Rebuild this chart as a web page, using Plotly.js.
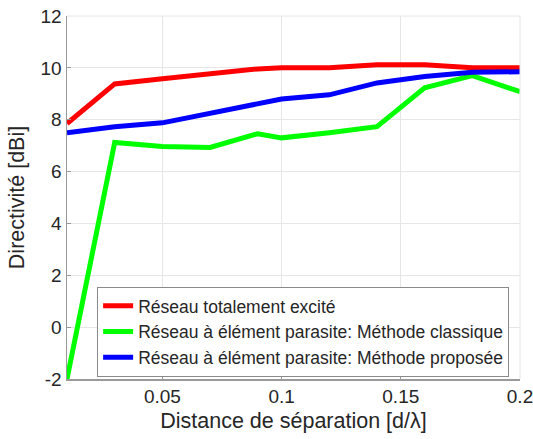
<!DOCTYPE html>
<html>
<head>
<meta charset="utf-8">
<script src="https://cdn.plot.ly/plotly-3.0.1.min.js"></script>
<style>html,body{margin:0;padding:0;background:#fff;}#chart{width:533px;height:439px;}</style>
</head>
<body>
<div id="chart"></div>
<script>
const xSep = [0.01, 0.03, 0.05, 0.07, 0.09, 0.10, 0.12, 0.14, 0.16, 0.18, 0.20];
const yTotal = [7.85, 9.38, 9.58, 9.77, 9.96, 10.0, 10.0, 10.12, 10.12, 10.0, 10.0];
const yClassique = [-2.0, 7.12, 6.97, 6.93, 7.46, 7.3, 7.5, 7.73, 9.23, 9.7, 9.08];
const yProposee = [7.5, 7.73, 7.88, 8.26, 8.62, 8.8, 8.96, 9.42, 9.67, 9.83, 9.85];
const names = ["Réseau totalement excité", "Réseau à élément parasite: Méthode classique", "Réseau à élément parasite: Méthode proposée"];
const colors = ["#ff0000", "#00ff00", "#0000ff"];
const xTicks = [0.05, 0.1, 0.15, 0.2];
const xTickText = ["0.05", "0.1", "0.15", "0.2"];
const yTicks = [-2, 0, 2, 4, 6, 8, 10, 12];
const yTickText = ["-2", "0", "2", "4", "6", "8", "10", "12"];

const series = [yTotal, yClassique, yProposee];
const data = series.map((y, i) => ({
  x: xSep, y: y, type: "scatter", mode: "lines", name: names[i],
  line: {color: colors[i], width: 5}
}));

const layout = {
  width: 533, height: 439,
  margin: {l: 67, r: 13, t: 16, b: 60},
  paper_bgcolor: "#fff", plot_bgcolor: "#fff",
  font: {family: "Liberation Sans, Arial, sans-serif", color: "#262626", size: 19},
  showlegend: true,
  legend: {
    x: 0.976, y: 0.006, xanchor: "right", yanchor: "bottom",
    bgcolor: "#fff", bordercolor: "#8a8a8a", borderwidth: 1,
    font: {size: 17.5, color: "#262626"},
    tracegroupgap: 0, itemwidth: 30
  },
  xaxis: {
    range: [0.01, 0.2], tickvals: xTicks, ticktext: xTickText,
    showgrid: true, gridcolor: "#e6e6e6", gridwidth: 1,
    showline: true, linecolor: "#9a9a9a", linewidth: 1.5,
    ticks: "inside", ticklen: 4, tickcolor: "#9a9a9a",
    zeroline: false, tickfont: {size: 19}, ticklabeloverflow: "allow",
    title: {text: "Distance de séparation [d/λ]", font: {size: 21.5}, standoff: 6}
  },
  yaxis: {
    range: [-2, 12], tickvals: yTicks, ticktext: yTickText,
    showgrid: true, gridcolor: "#e6e6e6", gridwidth: 1,
    showline: true, linecolor: "#9a9a9a", linewidth: 1.5,
    ticks: "inside", ticklen: 4, tickcolor: "#9a9a9a",
    zeroline: false, tickfont: {size: 19}, ticklabeloverflow: "allow",
    title: {text: "Directivité [dBi]", font: {size: 21.5}, standoff: 10}
  },
  shapes: [
    {type: "line", xref: "paper", yref: "paper", x0: 0, x1: 1, y0: 1, y1: 1, line: {color: "#e6e6e6", width: 1}},
    {type: "line", xref: "paper", yref: "paper", x0: 1, x1: 1, y0: 0, y1: 1, line: {color: "#e6e6e6", width: 1}}
  ]
};

Plotly.newPlot("chart", data, layout, {displayModeBar: false, staticPlot: true});
</script>
</body>
</html>
